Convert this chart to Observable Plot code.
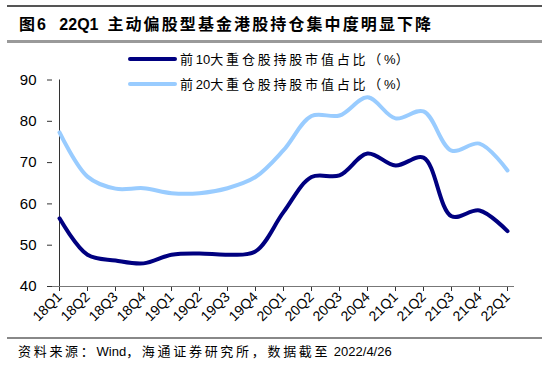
<!DOCTYPE html>
<html>
<head>
<meta charset="utf-8">
<script src="https://cdn.jsdelivr.net/npm/d3@7"></script>
<script src="https://cdn.jsdelivr.net/npm/@observablehq/plot@0.6"></script>
<style>
  html, body { margin: 0; padding: 0; background: #fff; }
  #wrap { position: relative; width: 550px; height: 375px; overflow: hidden; font-family: "Liberation Sans", Arial, "Noto Sans CJK SC", sans-serif; }
  #chart { position: absolute; left: 0; top: 0; }
  .hr { position: absolute; left: 7px; width: 535px; }
  #title { position: absolute; left: 19px; top: 15px; font-size: 16px; font-weight: bold; line-height: 20px; white-space: pre; color: #000; }
  #title .cjk { letter-spacing: 2.1px; }
  #caption { position: absolute; left: 18px; top: 344px; font-size: 13px; line-height: 16px; white-space: pre; color: #000; }
  #caption .cjk { letter-spacing: 2.7px; }
  #legend { position: absolute; left: 128px; top: 46px; font-size: 13px; color: #000; }
  .row { display: flex; align-items: center; height: 25px; }
  .row span.lbl { margin-left: 3px; white-space: pre; }
  .row .cjk { letter-spacing: 2.8px; }
</style>
</head>
<body>
<div id="wrap">
  <div id="chart"></div>
  <div class="hr" style="top:5px;height:1.5px;background:#555;"></div>
  <div id="title"></div>
  <div class="hr" style="top:40px;height:2.5px;background:#9a9a9a;"></div>
  <div id="legend"></div>
  <div class="hr" style="top:337px;height:1.5px;background:#888;"></div>
  <div id="caption"></div>
</div>
<script>
const titleText = "图6   22Q1  主动偏股型基金港股持仓集中度明显下降";
const captionText = "资料来源：Wind，海通证券研究所，数据截至 2022/4/26";
const quarters = ["18Q1","18Q2","18Q3","18Q4","19Q1","19Q2","19Q3","19Q4","20Q1","20Q2","20Q3","20Q4","21Q1","21Q2","21Q3","21Q4","22Q1"];
const top10 = [56.5,47.7,46.3,45.6,47.7,48.0,47.7,48.5,58.0,66.5,66.9,72.2,69.3,71.2,57.0,58.4,53.4];
const top20 = [77.3,66.6,63.7,63.8,62.6,62.6,63.8,66.5,73.0,81.3,81.4,85.8,80.7,82.4,72.9,74.6,68.1];
const seriesNames = ["前10大重仓股持股市值占比（%）","前20大重仓股持股市值占比（%）"];
const seriesColors = ["#000080","#99ccff"];
const yTicks = [40,50,60,70,80,90];

const d10 = quarters.map((q,i) => ({q, v: top10[i]}));
const d20 = quarters.map((q,i) => ({q, v: top20[i]}));

// split text into CJK / non-CJK runs so that spacing can differ
function fillRuns(el, text) {
  const re = /[\u3000-\u9fff\uff00-\uffef]+|[^\u3000-\u9fff\uff00-\uffef]+/g;
  (text.match(re) || []).forEach(run => {
    const s = document.createElement("span");
    if (/[\u3000-\u9fff\uff00-\uffef]/.test(run)) s.className = "cjk";
    s.textContent = run;
    el.appendChild(s);
  });
}

fillRuns(document.getElementById("title"), titleText);
fillRuns(document.getElementById("caption"), captionText);

const legend = document.getElementById("legend");
seriesNames.forEach((name, i) => {
  const row = document.createElement("div");
  row.className = "row";
  row.innerHTML = `<svg width="49" height="6"><line x1="2" y1="3" x2="47" y2="3" stroke="${seriesColors[i]}" stroke-width="4" stroke-linecap="round"/></svg><span class="lbl"></span>`;
  fillRuns(row.querySelector(".lbl"), name);
  legend.appendChild(row);
});

const chart = Plot.plot({
  width: 550,
  height: 375,
  marginTop: 79.5,
  marginBottom: 89,
  marginLeft: 52,
  marginRight: 36,
  style: { fontFamily: "Liberation Sans, Arial, sans-serif", color: "#000", background: "transparent", overflow: "visible" },
  x: { type: "point", domain: quarters, padding: 0 },
  y: { domain: [yTicks[0], yTicks[yTicks.length-1]] },
  marks: [
    Plot.axisY({ ticks: yTicks, tickSize: 5, tickPadding: 11, fontSize: 15, label: null, stroke: "#333" }),
    Plot.axisX({ tickSize: 5, tickPadding: 3, tickRotate: -45, fontSize: 14, label: null, stroke: "#333" }),
    Plot.ruleY([yTicks[0]], { stroke: "#777", strokeWidth: 1 }),
    Plot.ruleX([quarters[0]], { stroke: "#333", strokeWidth: 1 }),
    Plot.line(d20, { x: "q", y: "v", stroke: seriesColors[1], strokeWidth: 4, curve: "catmull-rom" }),
    Plot.line(d10, { x: "q", y: "v", stroke: seriesColors[0], strokeWidth: 4, curve: "catmull-rom" })
  ]
});
document.getElementById("chart").appendChild(chart);
</script>
</body>
</html>
